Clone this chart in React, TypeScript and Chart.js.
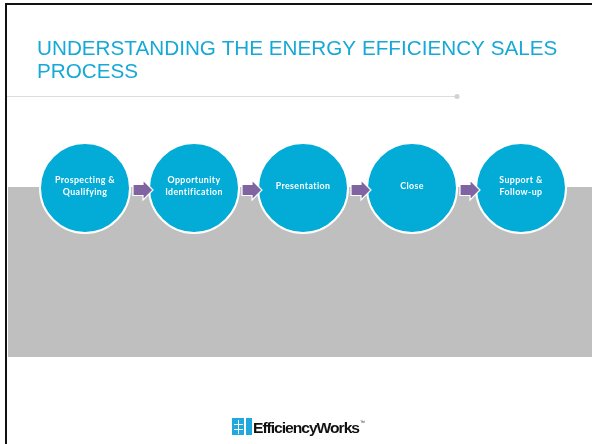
import React, { useEffect, useRef } from "react";
import { Chart, registerables } from "chart.js";

Chart.register(...registerables);

// ---- content ----
const TITLE_LINES = ["UNDERSTANDING THE ENERGY EFFICIENCY SALES", "PROCESS"];
const STEPS = [
  "Prospecting &\nQualifying",
  "Opportunity\nIdentification",
  "Presentation",
  "Close",
  "Support &\nFollow-up",
];
const STEP_INDEX = [0, 1, 2, 3, 4];
const STEP_LEVEL = [0, 0, 0, 0, 0];
const LOGO_TEXT = "EfficiencyWorks";

// ---- layout ----
const W = 592;
const H = 444;
const FIRST_X = 85;
const STEP_PX = 109;
const CENTER_Y = 188;

export default function App() {
  const ref = useRef<HTMLCanvasElement | null>(null);

  useEffect(() => {
    document.body.style.margin = "0";
    const canvas = ref.current;
    if (!canvas) return;

    const slidePlugin = {
      id: "slide",
      beforeDraw(chart: any) {
        const ctx = chart.ctx as CanvasRenderingContext2D;
        ctx.save();
        ctx.fillStyle = "#ffffff";
        ctx.fillRect(0, 0, W, H);
        // frame (top + left)
        ctx.fillStyle = "#111111";
        ctx.fillRect(5, 3, W - 5, 2);
        ctx.fillRect(5, 3, 2, H - 3);
        // title
        ctx.fillStyle = "#16a9d7";
        ctx.font = "20.7px 'Liberation Sans', Arial, sans-serif";
        ctx.textBaseline = "alphabetic";
        ctx.textAlign = "left";
        ctx.fillText(TITLE_LINES[0], 37, 55);
        ctx.fillText(TITLE_LINES[1], 37, 78);
        // rule with dot
        ctx.strokeStyle = "#dcdcdc";
        ctx.lineWidth = 1;
        ctx.beginPath();
        ctx.moveTo(7, 96.5);
        ctx.lineTo(456, 96.5);
        ctx.stroke();
        ctx.fillStyle = "#d2d2d2";
        ctx.beginPath();
        ctx.arc(457, 96.5, 2.5, 0, Math.PI * 2);
        ctx.fill();
        // logo icon
        ctx.fillStyle = "#1fa9df";
        ctx.fillRect(232, 418, 20, 17);
        ctx.fillStyle = "#ffffff";
        ctx.fillRect(238, 420, 1, 14);
        ctx.fillRect(244, 418, 2, 17);
        ctx.fillRect(234, 424, 9, 1);
        ctx.fillRect(234, 429, 9, 1);
        // logo text
        ctx.fillStyle = "#111111";
        ctx.font = "bold 15px 'Liberation Sans', Arial, sans-serif";
        (ctx as any).letterSpacing = "-1px";
        const tw = ctx.measureText(LOGO_TEXT).width;
        ctx.translate(253, 433);
        ctx.scale(106 / tw, 1);
        ctx.fillText(LOGO_TEXT, 0, 0);
        ctx.restore();
        ctx.save();
        ctx.fillStyle = "#1a1a1a";
        ctx.font = "5px 'Liberation Sans', Arial, sans-serif";
        ctx.fillText("™", 360, 424);
        ctx.restore();
      },
      beforeDatasetsDraw(chart: any) {
        const ctx = chart.ctx as CanvasRenderingContext2D;
        ctx.save();
        ctx.fillStyle = "#bfbfbf";
        ctx.fillRect(8, 187, W - 8, 170);
        ctx.restore();
      },
      afterDatasetsDraw(chart: any) {
        const ctx = chart.ctx as CanvasRenderingContext2D;
        const meta = chart.getDatasetMeta(0);
        const pts = meta.data.map((p: any) => ({ x: p.x, y: p.y }));
        ctx.save();
        // arrows
        for (let i = 0; i < pts.length - 1; i++) {
          const mid = (pts[i].x + pts[i + 1].x) / 2;
          const cy = pts[i].y + 2;
          const x0 = mid - 6.5;
          const xh = mid + 3.5;
          const xt = mid + 13.5;
          ctx.beginPath();
          ctx.moveTo(x0, cy - 5.5);
          ctx.lineTo(xh, cy - 5.5);
          ctx.lineTo(xh, cy - 10);
          ctx.lineTo(xt, cy);
          ctx.lineTo(xh, cy + 10);
          ctx.lineTo(xh, cy + 5.5);
          ctx.lineTo(x0, cy + 5.5);
          ctx.closePath();
          ctx.fillStyle = "#8064a2";
          ctx.fill();
          ctx.strokeStyle = "#ffffff";
          ctx.lineWidth = 1.2;
          ctx.stroke();
        }
        // labels
        ctx.fillStyle = "#ffffff";
        ctx.font = "bold 8.8px Lato, 'Open Sans', sans-serif";
        (ctx as any).letterSpacing = "0.4px";
        ctx.textAlign = "center";
        ctx.textBaseline = "middle";
        pts.forEach((p: any, i: number) => {
          const lines = STEPS[i].split("\n");
          const lh = 11.5;
          const startY = p.y - 2 - ((lines.length - 1) * lh) / 2;
          lines.forEach((ln, j) => ctx.fillText(ln, p.x, startY + j * lh));
        });
        ctx.restore();
      },
    };

    const yMax = CENTER_Y / (H - CENTER_Y);

    const chart = new Chart(canvas, {
      type: "scatter",
      data: {
        labels: STEPS,
        datasets: [
          {
            data: STEP_INDEX.map((x, i) => ({ x, y: STEP_LEVEL[i] })),
            backgroundColor: "#02acd6",
            borderColor: "#ffffff",
            borderWidth: 2,
            pointRadius: 45,
            pointHoverRadius: 45,
            clip: false,
          },
        ],
      },
      options: {
        animation: false,
        responsive: false,
        devicePixelRatio: 1,
        events: [],
        layout: { padding: 0, autoPadding: false },
        plugins: { legend: { display: false }, tooltip: { enabled: false }, title: { display: false } },
        scales: {
          x: {
            type: "linear",
            display: false,
            min: -FIRST_X / STEP_PX,
            max: (W - FIRST_X) / STEP_PX,
          },
          y: {
            type: "linear",
            display: false,
            min: -1,
            max: yMax,
          },
        },
      },
      plugins: [slidePlugin],
    });

    return () => chart.destroy();
  }, []);

  return (
    <div style={{ position: "fixed", left: 0, top: 0, width: W, height: H, background: "#fff" }}>
      <canvas ref={ref} width={W} height={H} style={{ width: W, height: H, display: "block" }} />
    </div>
  );
}
